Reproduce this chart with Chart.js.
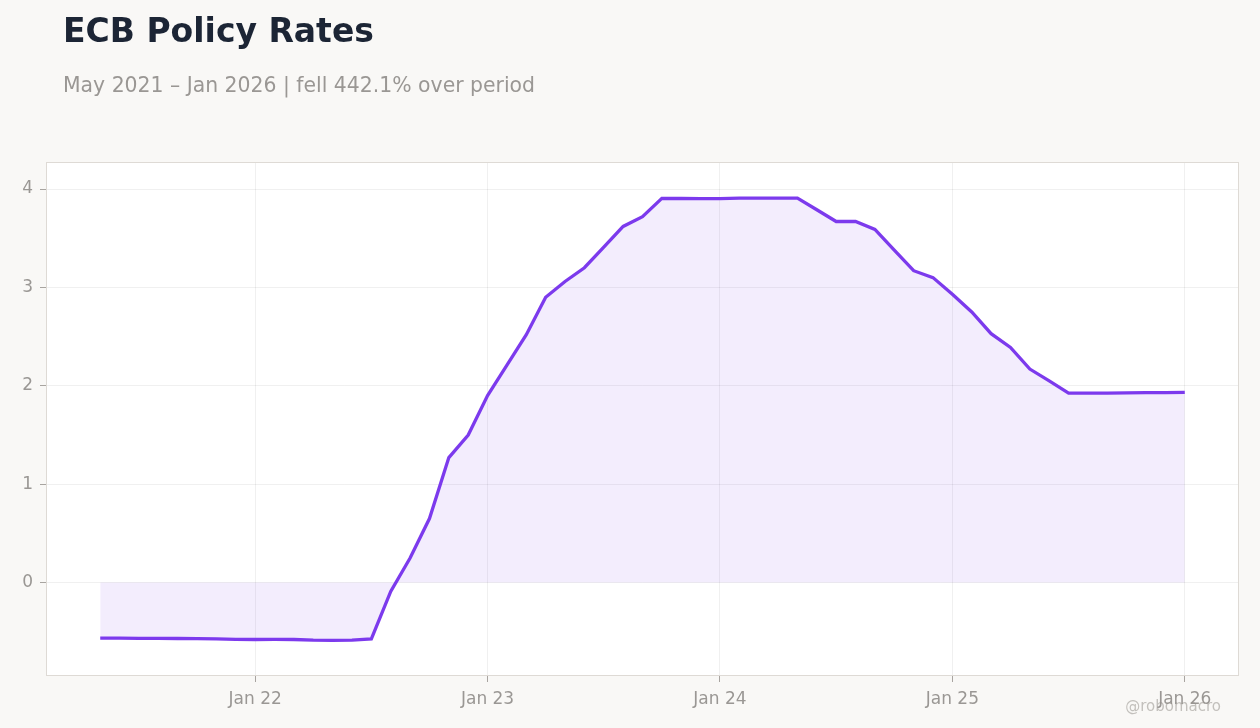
<!DOCTYPE html>
<html>
<head>
<meta charset="utf-8">
<script src="https://cdn.jsdelivr.net/npm/chart.js@4/dist/chart.umd.min.js"></script>
<style>
  html, body { margin: 0; padding: 0; background: #f9f8f6; }
  canvas { display: block; }
</style>
</head>
<body>
<canvas id="rates" width="1260" height="728"></canvas>
<script>
  // monthly ECB rate, May 2021 - Jan 2026
  const months = [
    '2021-05', '2021-06', '2021-07', '2021-08', '2021-09', '2021-10', '2021-11', '2021-12',
    '2022-01', '2022-02', '2022-03', '2022-04', '2022-05', '2022-06', '2022-07', '2022-08',
    '2022-09', '2022-10', '2022-11', '2022-12', '2023-01', '2023-02', '2023-03', '2023-04',
    '2023-05', '2023-06', '2023-07', '2023-08', '2023-09', '2023-10', '2023-11', '2023-12',
    '2024-01', '2024-02', '2024-03', '2024-04', '2024-05', '2024-06', '2024-07', '2024-08',
    '2024-09', '2024-10', '2024-11', '2024-12', '2025-01', '2025-02', '2025-03', '2025-04',
    '2025-05', '2025-06', '2025-07', '2025-08', '2025-09', '2025-10', '2025-11', '2025-12',
    '2026-01'
  ]
  const rates = [
    -0.565, -0.565, -0.567, -0.568, -0.569, -0.570, -0.572, -0.578,
    -0.579, -0.578, -0.579, -0.586, -0.587, -0.586, -0.572, -0.090,
    0.25, 0.65, 1.27, 1.50, 1.90, 2.21, 2.52, 2.90,
    3.06, 3.20, 3.41, 3.62, 3.72, 3.905, 3.904, 3.903,
    3.903, 3.908, 3.907, 3.908, 3.908, 3.79, 3.67, 3.67,
    3.59, 3.38, 3.17, 3.10, 2.93, 2.75, 2.53, 2.39,
    2.17, 2.05, 1.925, 1.925, 1.926, 1.928, 1.930, 1.931,
    1.933
  ]
  const tickYears = [2022, 2023, 2024, 2025, 2026]
  const tickLabels = ['Jan 22', 'Jan 23', 'Jan 24', 'Jan 25', 'Jan 26']
  const yTicks = [0, 1, 2, 3, 4]

  const toYear = (m) => {
    const [y, mo] = m.split('-').map(Number)
    return y + (mo - 1) / 12
  }

  const tickFont = { family: 'DejaVu Sans', size: 17 }
  const grey = '#9a9794'

  const frame = {
    id: 'frame',
    beforeDraw(chart) {
      const { ctx, chartArea: a } = chart
      ctx.save()
      ctx.fillStyle = '#f9f8f6'
      ctx.fillRect(0, 0, chart.width, chart.height)
      ctx.fillStyle = '#ffffff'
      ctx.fillRect(a.left, a.top, a.right - a.left, a.bottom - a.top)
      ctx.restore()
    },
    afterDraw(chart) {
      const { ctx, chartArea: a } = chart
      ctx.save()
      ctx.strokeStyle = '#dedad5'
      ctx.lineWidth = 1
      ctx.strokeRect(a.left + 0.5, a.top + 0.5, a.right - a.left - 1, a.bottom - a.top - 1)

      ctx.textBaseline = 'alphabetic'
      ctx.textAlign = 'left'
      ctx.fillStyle = '#1c2535'
      ctx.font = 'bold 33px "DejaVu Sans"'
      ctx.fillText('ECB Policy Rates', 63, 42)
      ctx.fillStyle = '#9a9794'
      ctx.font = '20.4px "DejaVu Sans"'
      ctx.fillText('May 2021 – Jan 2026 | fell 442.1% over period', 63, 92)

      ctx.textAlign = 'right'
      ctx.fillStyle = 'rgba(150,145,140,0.55)'
      ctx.font = '15px "DejaVu Sans"'
      ctx.fillText('@robomacro', 1221, 711)
      ctx.restore()
    }
  }

  new Chart(document.getElementById('rates'), {
    type: 'line',
    data: {
      datasets: [{
        data: months.map((m, i) => ({ x: toYear(m), y: rates[i] })),
        borderColor: '#7c3aed',
        borderWidth: 3.3,
        backgroundColor: 'rgba(124, 58, 237, 0.09)',
        fill: { value: 0 },
        pointRadius: 0,
        tension: 0
      }]
    },
    options: {
      responsive: false,
      animation: false,
      layout: { padding: { top: 162, right: 21, left: 0, bottom: 0 } },
      plugins: {
        legend: { display: false },
        tooltip: { enabled: false }
      },
      scales: {
        x: {
          type: 'linear',
          min: 2021.1,
          max: 2026.2333,
          afterBuildTicks: (scale) => { scale.ticks = tickYears.map(v => ({ value: v })) },
          afterFit: (scale) => { scale.height = 52 },
          ticks: {
            autoSkip: false,
            maxRotation: 0,
            padding: 7,
            color: grey,
            font: tickFont,
            callback: (v, i) => tickLabels[i]
          },
          grid: { color: 'rgba(0,0,0,0.06)', tickColor: '#a8a4a0', tickLength: 6 },
          border: { display: false }
        },
        y: {
          min: -0.95,
          max: 4.275,
          afterBuildTicks: (scale) => { scale.ticks = yTicks.map(v => ({ value: v })) },
          afterFit: (scale) => { scale.width = 46 },
          ticks: {
            padding: 7,
            color: grey,
            font: tickFont
          },
          grid: { color: 'rgba(0,0,0,0.06)', tickColor: '#a8a4a0', tickLength: 6 },
          border: { display: false }
        }
      }
    },
    plugins: [frame]
  })
</script>
</body>
</html>
